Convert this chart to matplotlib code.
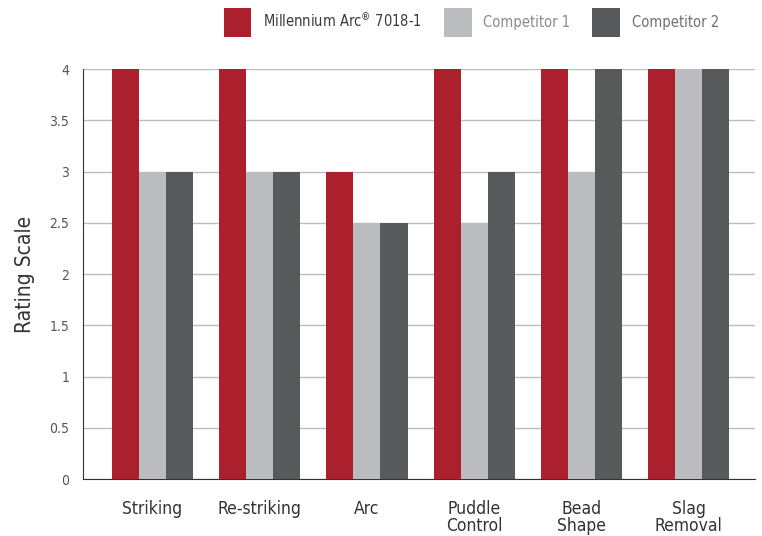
import matplotlib
matplotlib.use("Agg")
import matplotlib.pyplot as plt
import numpy as np
from matplotlib.patches import Patch

categories = ["Striking", "Re-striking", "Arc", "Puddle\nControl", "Bead\nShape", "Slag\nRemoval"]
series_names = ["Millennium Arc$^{®}$ 7018-1", "Competitor 1", "Competitor 2"]
millennium = [4, 4, 3, 4, 4, 4]
competitor1 = [3, 3, 2.5, 2.5, 3, 4]
competitor2 = [3, 3, 2.5, 3, 4, 4]
y_ticks = [0, 0.5, 1, 1.5, 2, 2.5, 3, 3.5, 4]
y_tick_labels = ["0", "0.5", "1", "1.5", "2", "2.5", "3", "3.5", "4"]

colors = ["#AC1F2D", "#BBBCBF", "#58595B"]

plt.rcParams["font.family"] = ["DejaVu Sans"]
plt.rcParams["font.stretch"] = "condensed"

fig = plt.figure(figsize=(7.62, 5.36), dpi=100)
ax = fig.add_axes([0.109, 0.106, 0.882, 0.765])

x = np.arange(len(categories))
w = 0.252
for i, (vals, c) in enumerate(zip([millennium, competitor1, competitor2], colors)):
    ax.bar(x + (i - 1) * w, vals, width=w, color=c, zorder=3, linewidth=0)

ax.set_xlim(-0.648, 5.62)
ax.set_ylim(0, 4)
ax.set_yticks(y_ticks)
ax.set_yticklabels(y_tick_labels, fontsize=10, color="#555555")
ax.set_xticks(x)
ax.set_xticklabels(categories, fontsize=12.5, color="#333333", linespacing=0.93)
ax.tick_params(axis="both", length=0)
ax.tick_params(axis="x", pad=15)
ax.tick_params(axis="y", pad=10)
ax.yaxis.grid(True, color="#BDBDBD", linewidth=1, zorder=0)
ax.set_axisbelow(True)
for s in ["top", "right"]:
    ax.spines[s].set_visible(False)
ax.spines["left"].set_color("#333333")
ax.spines["bottom"].set_color("#333333")
ax.set_ylabel("Rating Scale", fontsize=15, color="#333333", labelpad=10)

handles = [Patch(facecolor=c, edgecolor="none") for c in colors]
leg = fig.legend(handles, series_names, loc="upper left", bbox_to_anchor=(0.283, 1.0),
                 ncol=3, frameon=False, fontsize=10.5, handlelength=1.9, handleheight=2.65,
                 columnspacing=1.5, handletextpad=0.8, borderaxespad=0.15)
text_colors = ["#3A3A3A", "#8A8A8A", "#6E6E6E"]
for t, c in zip(leg.get_texts(), text_colors):
    t.set_color(c)

fig.savefig("out.png", dpi=100)
